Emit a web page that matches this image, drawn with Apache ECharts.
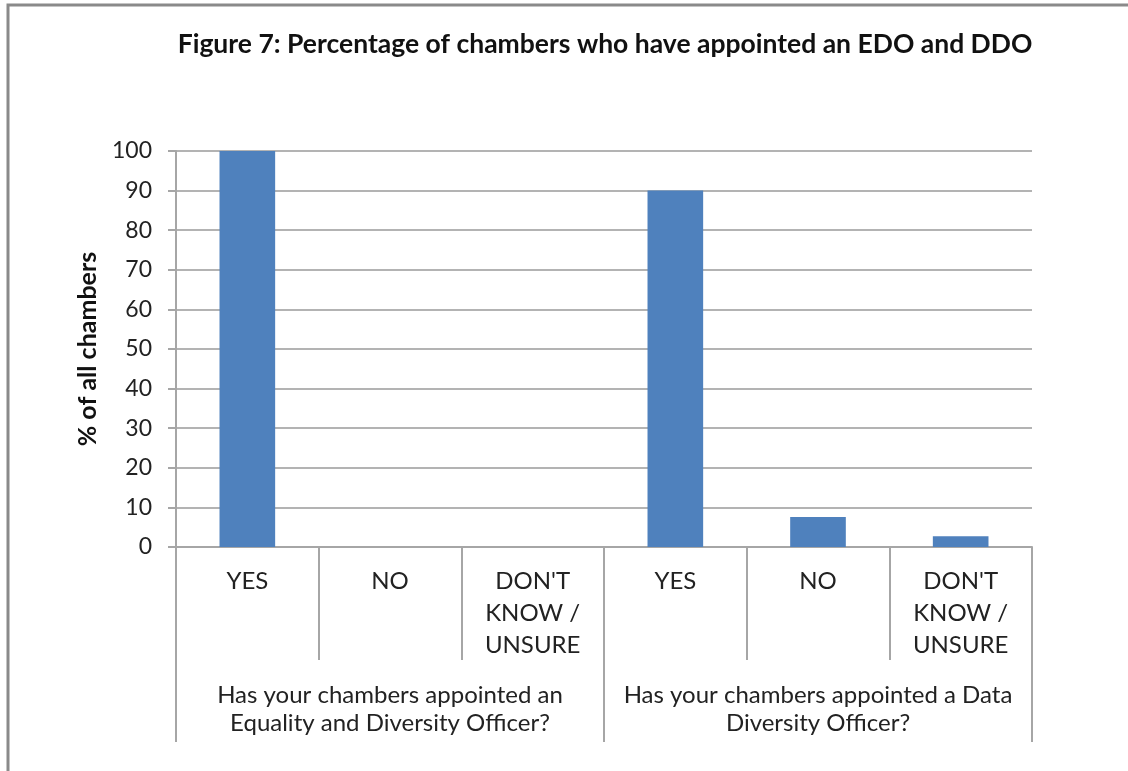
<!DOCTYPE html>
<html>
<head>
<meta charset="utf-8">
<style>
  html, body { margin: 0; padding: 0; background: #fff; }
  #chart { width: 1128px; height: 771px; }
</style>
<script src="https://cdn.jsdelivr.net/npm/echarts@6/dist/echarts.min.js"></script>
</head>
<body>
<div id="chart"></div>
<script>
// Answer options, repeated for each of the two survey questions
const answers = ['YES', 'NO', "DON'T\nKNOW /\nUNSURE", 'YES', 'NO', "DON'T\nKNOW /\nUNSURE"];
// The two questions that group the answers
const questions = [
  'Has your chambers appointed an\nEquality and Diversity Officer?',
  'Has your chambers appointed a Data\nDiversity Officer?'
];
// Percentage of all chambers giving each answer
const percentages = [100, 0, 0, 90, 7.6, 2.7];
// Value axis ticks
const yTicks = [0, 10, 20, 30, 40, 50, 60, 70, 80, 90, 100];

const FONT = 'Lato, "Noto Sans", sans-serif';
const GRID_GRAY = '#b3b3b3';
const AXIS_GRAY = '#a6a6a6';

const chart = echarts.init(document.getElementById('chart'), null, { renderer: 'canvas' });

chart.setOption({
  animation: false,
  backgroundColor: '#ffffff',
  title: {
    text: 'Figure 7: Percentage of chambers who have appointed an EDO and DDO',
    left: 600,
    top: 26,
    textAlign: 'center',
    textStyle: { fontFamily: FONT, fontSize: 26.5, fontWeight: 'bold', color: '#111' }
  },
  grid: { left: 176, right: 96, top: 151, bottom: 224, containLabel: false },
  xAxis: [
    {
      type: 'category',
      data: answers,
      position: 'bottom',
      axisLine: { show: true, lineStyle: { color: AXIS_GRAY, width: 2 } },
      axisTick: { show: true, interval: 0, length: 113, lineStyle: { color: AXIS_GRAY, width: 2 } },
      axisLabel: {
        interval: 0, margin: 18,
        fontFamily: FONT, fontSize: 24, color: '#222', lineHeight: 32
      }
    },
    {
      type: 'category',
      data: questions,
      position: 'bottom',
      offset: 0,
      axisLine: { show: false },
      axisTick: { show: true, interval: 0, length: 195, lineStyle: { color: AXIS_GRAY, width: 2 } },
      axisLabel: {
        interval: 0, margin: 134,
        fontFamily: FONT, fontSize: 24, color: '#222', lineHeight: 28
      }
    }
  ],
  yAxis: {
    type: 'value',
    min: yTicks[0],
    max: yTicks[yTicks.length - 1],
    interval: 10,
    name: '% of all chambers',
    nameLocation: 'middle',
    nameGap: 76,
    nameRotate: 90,
    nameTextStyle: { fontFamily: FONT, fontSize: 25, fontWeight: 'bold', color: '#111' },
    axisLine: { show: true, lineStyle: { color: AXIS_GRAY, width: 2 } },
    axisTick: { show: true, length: 8, lineStyle: { color: AXIS_GRAY, width: 2 } },
    axisLabel: { margin: 24, fontFamily: FONT, fontSize: 23, color: '#222' },
    splitLine: { show: true, lineStyle: { color: GRID_GRAY, width: 2 } }
  },
  series: [{
    type: 'bar',
    xAxisIndex: 0,
    data: percentages,
    barWidth: '39%',
    itemStyle: { color: '#4f81bd' }
  }],
  graphic: [{
    type: 'polyline',
    shape: { points: [[8, 771], [8, 5], [1128, 5]] },
    style: { stroke: '#8a8a8a', lineWidth: 3, fill: null },
    silent: true
  }]
});
</script>
</body>
</html>
